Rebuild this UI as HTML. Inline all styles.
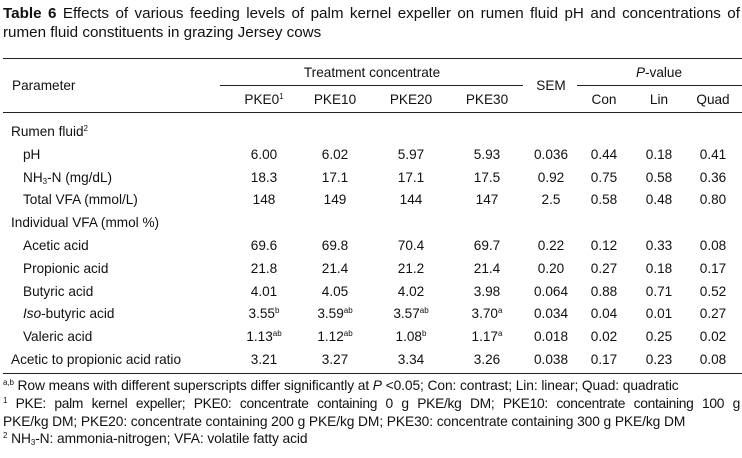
<!DOCTYPE html>
<html><head><meta charset="utf-8"><style>
body{margin:0;width:742px;height:458px;background:#fff;font-family:"Liberation Sans",Arial,sans-serif;color:#111;position:relative;overflow:hidden}
.t{position:absolute;font-size:13.6px;white-space:nowrap;line-height:15px}
.c{transform:translateX(-50%)}
.l{position:absolute;height:1px;background:#222}
sup{font-size:8px;vertical-align:5px;line-height:0}
sub{font-size:8px;vertical-align:-2px;line-height:0}
.f{font-size:13.8px;letter-spacing:-0.1px}
</style></head><body>
<div class="t" style="left:3px;top:6px;font-size:15.2px;width:737px;text-align:justify;text-align-last:justify"><b>Table 6</b> Effects of various feeding levels of palm kernel expeller on rumen fluid pH and concentrations of</div>
<div class="t" style="left:3px;top:25px;font-size:15.2px">rumen fluid constituents in grazing Jersey cows</div>
<div class="l" style="left:3px;width:739px;top:58px"></div>
<div class="l" style="left:220px;width:303px;top:85px"></div>
<div class="l" style="left:577px;width:165px;top:85px"></div>
<div class="l" style="left:3px;width:739px;top:112px"></div>
<div class="l" style="left:3px;width:739px;top:373px"></div>
<div class="t" style="left:12px;top:78px">Parameter</div>
<div class="t c" style="left:372px;top:65px">Treatment concentrate</div>
<div class="t c" style="left:551px;top:78px">SEM</div>
<div class="t c" style="left:659px;top:65px"><i>P</i>-value</div>
<div id="hdr"></div>
<div id="rows"></div>
<div class="t f" style="left:3px;top:378px"><sup>a,b</sup> Row means with different superscripts differ significantly at <i>P</i> &lt;0.05; Con: contrast; Lin: linear; Quad: quadratic</div>
<div class="t f" style="left:3px;top:396px;width:737px;text-align:justify;text-align-last:justify;letter-spacing:-0.3px"><sup>1</sup> PKE: palm kernel expeller; PKE0: concentrate containing 0 g PKE/kg DM; PKE10: concentrate containing 100 g</div>
<div class="t f" style="left:3px;top:414px">PKE/kg DM; PKE20: concentrate containing 200 g PKE/kg DM; PKE30: concentrate containing 300 g PKE/kg DM</div>
<div class="t f" style="left:3px;top:431px"><sup>2</sup> NH<sub>3</sub>-N: ammonia-nitrogen; VFA: volatile fatty acid</div>
<script>
const cols=[264,335,411,487,551,604,659,713];
const heads=["PKE0<sup>1</sup>","PKE10","PKE20","PKE30","","Con","Lin","Quad"];
const rows=[
["Rumen fluid<sup>2</sup>",8,[]],
["pH",20,["6.00","6.02","5.97","5.93","0.036","0.44","0.18","0.41"]],
["NH<sub>3</sub>-N (mg/dL)",20,["18.3","17.1","17.1","17.5","0.92","0.75","0.58","0.36"]],
["Total VFA (mmol/L)",20,["148","149","144","147","2.5","0.58","0.48","0.80"]],
["Individual VFA (mmol %)",8,[]],
["Acetic acid",20,["69.6","69.8","70.4","69.7","0.22","0.12","0.33","0.08"]],
["Propionic acid",20,["21.8","21.4","21.2","21.4","0.20","0.27","0.18","0.17"]],
["Butyric acid",20,["4.01","4.05","4.02","3.98","0.064","0.88","0.71","0.52"]],
["<i>Iso</i>-butyric acid",20,["3.55<sup>b</sup>","3.59<sup>ab</sup>","3.57<sup>ab</sup>","3.70<sup>a</sup>","0.034","0.04","0.01","0.27"]],
["Valeric acid",20,["1.13<sup>ab</sup>","1.12<sup>ab</sup>","1.08<sup>b</sup>","1.17<sup>a</sup>","0.018","0.02","0.25","0.02"]],
["Acetic to propionic acid ratio",8,["3.21","3.27","3.34","3.26","0.038","0.17","0.23","0.08"]]
];
const H=document.getElementById('hdr');
heads.forEach((h,i)=>{if(!h)return;const d=document.createElement('div');d.className='t c';d.style.left=cols[i]+'px';d.style.top='92px';d.innerHTML=h;


H.appendChild(d);});
const R=document.getElementById('rows');
rows.forEach((r,j)=>{const y=124+j*22.8;const d=document.createElement('div');d.className='t';d.style.left=(r[1]+3)+'px';d.style.top=y+'px';d.innerHTML=r[0];


R.appendChild(d);
r[2].forEach((v,i)=>{const e=document.createElement('div');e.className='t c';e.style.left=cols[i]+'px';e.style.top=y+'px';e.innerHTML=v;


R.appendChild(e);});});
</script>
</body></html>
